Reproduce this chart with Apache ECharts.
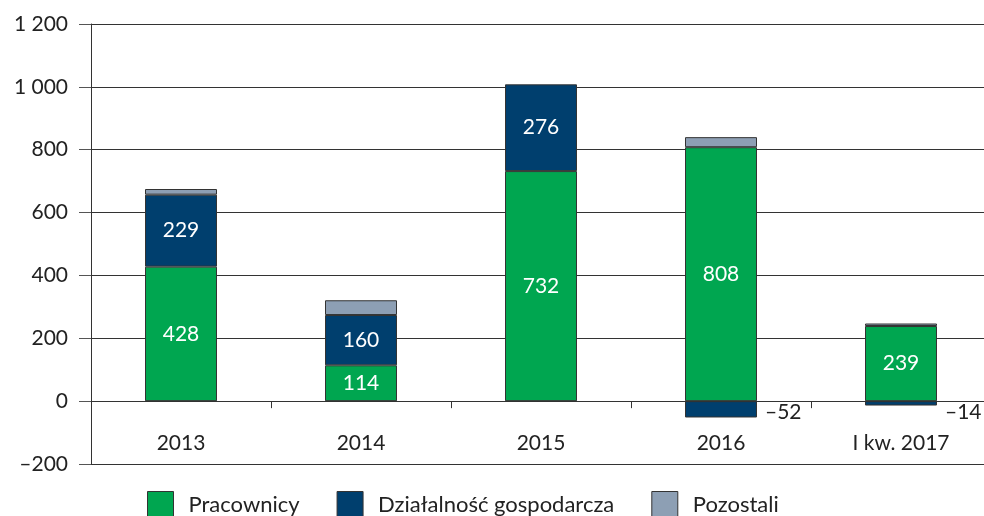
<!DOCTYPE html>
<html>
<head>
<meta charset="utf-8">
<script src="https://cdn.jsdelivr.net/npm/echarts@6/dist/echarts.min.js"></script>
<style>
  html, body { margin: 0; padding: 0; background: #fff; }
  #chart { width: 984px; height: 516px; }
</style>
</head>
<body>
<div id="chart"></div>
<script>
const categories = ['2013', '2014', '2015', '2016', 'I kw. 2017']
const pracownicy = [428, 114, 732, 808, 239]
const dzialalnosc = [229, 160, 276, -52, -14]
const pozostali = [18, 47, 0, 32, 8]
const seriesNames = ['Pracownicy', 'Działalność gospodarcza', 'Pozostali']
const colors = ['#00a650', '#003f6e', '#8d9fb4']

const FONT = 'Lato'
const dash = '\u2013'

function fmtNum(v) {
  const s = String(Math.abs(v)).replace(/\B(?=(\d{3})+(?!\d))/g, ' ')
  return (v < 0 ? dash : '') + s
}

const insideLabel = {
  show: true,
  position: 'inside',
  color: '#fff',
  fontFamily: FONT,
  fontSize: 21,
  formatter: p => fmtNum(p.value)
}

// negative values get their label outside, to the right of the bar
const dzData = dzialalnosc.map(v => {
  if (v >= 0) return v
  return {
    value: v,
    label: {
      position: 'right',
      distance: 8,
      color: '#222',
      offset: [0, 11 - Math.abs(v) * 0.157]
    }
  }
})

// a zero segment should not leave a border line on top of the bar
const pozData = pozostali.map(v => (v === 0 ? '-' : v))

const myCharts = echarts.init(document.getElementById('chart'))
const option = {
  backgroundColor: '#fff',
  animation: false,
  grid: {
    left: 91,
    top: 24,
    bottom: 52,
    right: -7,
    containLabel: false,
    outerBoundsMode: 'none'
  },
  legend: {
    left: 147,
    top: 491,
    padding: 0,
    itemWidth: 26,
    itemHeight: 26,
    itemGap: 37,
    icon: 'rect',
    data: seriesNames,
    itemStyle: { borderColor: '#333', borderWidth: 1 },
    textStyle: {
      fontFamily: FONT,
      fontSize: 22,
      color: '#222',
      padding: [0, 0, 0, 10]
    }
  },
  xAxis: {
    type: 'category',
    data: categories,
    axisLine: { onZero: true, lineStyle: { color: '#333', width: 1 } },
    axisTick: { show: true, length: 7, lineStyle: { color: '#333' } },
    axisLabel: {
      // labels stay at the grid bottom, pull them up under the zero line
      margin: -31,
      color: '#222',
      fontFamily: FONT,
      fontSize: 21
    }
  },
  yAxis: {
    type: 'value',
    min: -200,
    max: 1200,
    interval: 200,
    axisLine: { show: true, lineStyle: { color: '#333' } },
    axisTick: { show: true, length: 12, lineStyle: { color: '#555' } },
    axisLabel: {
      margin: 23,
      color: '#222',
      fontFamily: FONT,
      fontSize: 21,
      formatter: v => fmtNum(v)
    },
    splitLine: { lineStyle: { color: '#333', width: 1 } }
  },
  series: [
    {
      name: seriesNames[0],
      type: 'bar',
      stack: 'total',
      barWidth: 72,
      data: pracownicy,
      itemStyle: { color: colors[0], borderColor: '#333', borderWidth: 1 },
      label: insideLabel
    },
    {
      name: seriesNames[1],
      type: 'bar',
      stack: 'total',
      barWidth: 72,
      data: dzData,
      itemStyle: { color: colors[1], borderColor: '#333', borderWidth: 1 },
      label: insideLabel
    },
    {
      name: seriesNames[2],
      type: 'bar',
      stack: 'total',
      barWidth: 72,
      data: pozData,
      itemStyle: { color: colors[2], borderColor: '#333', borderWidth: 1 }
    }
  ]
}
myCharts.setOption(option)
window.addEventListener('resize', myCharts.resize)
</script>
</body>
</html>
